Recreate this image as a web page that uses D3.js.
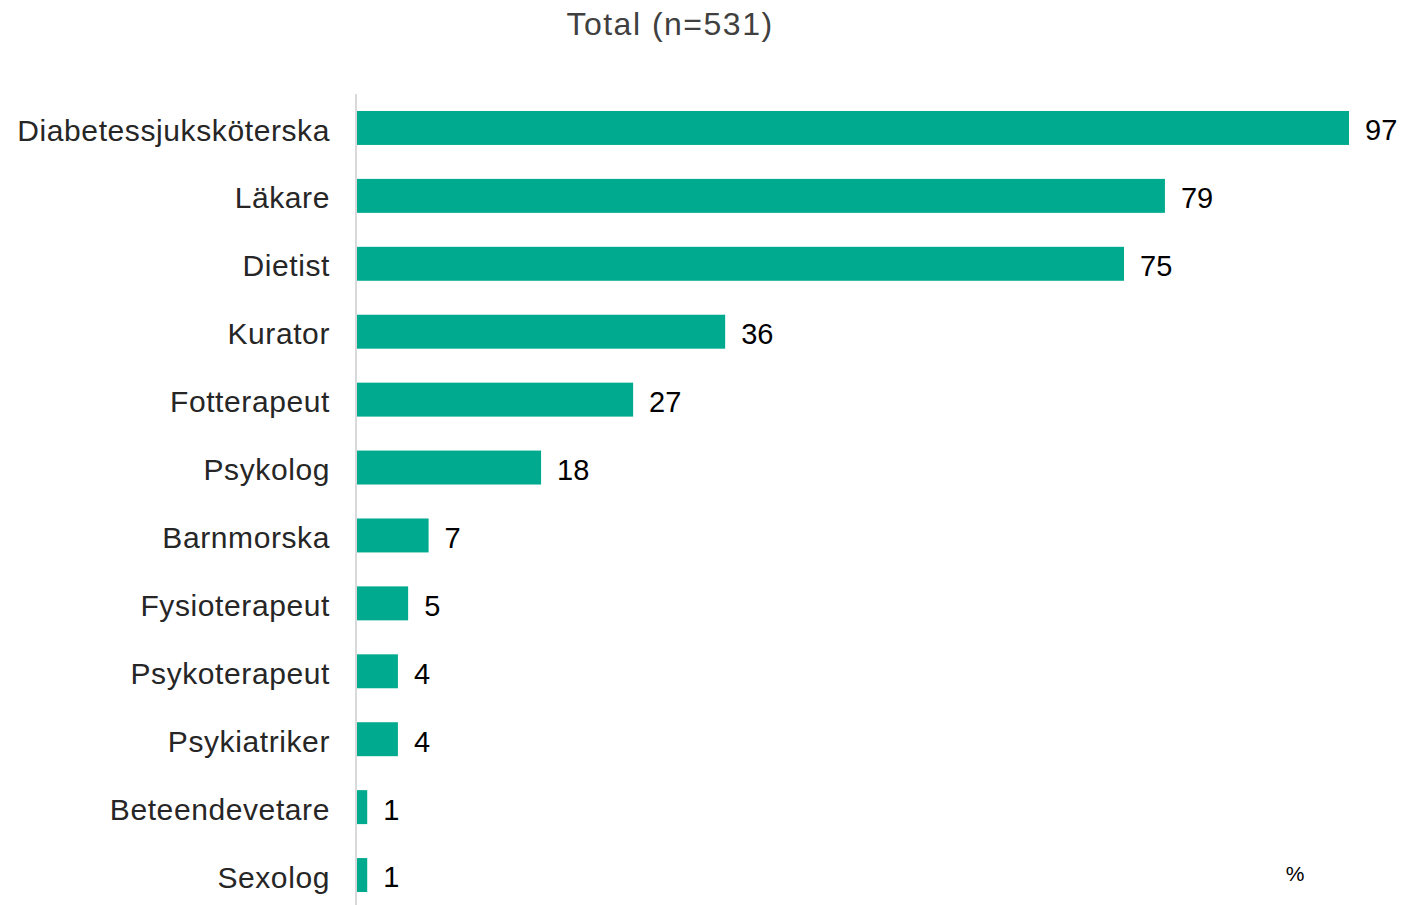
<!DOCTYPE html>
<html>
<head>
<meta charset="utf-8">
<script src="https://cdn.jsdelivr.net/npm/d3@7"></script>
<style>
  html, body { margin: 0; padding: 0; background: #ffffff; }
  svg { display: block; font-family: "Liberation Sans", Arial, sans-serif; }
</style>
</head>
<body>
<svg id="chart" width="1405" height="905"></svg>
<script>
// Professions and share of respondents (%)
const categories = [
  "Diabetessjuksköterska", "Läkare", "Dietist", "Kurator", "Fotterapeut",
  "Psykolog", "Barnmorska", "Fysioterapeut", "Psykoterapeut", "Psykiatriker",
  "Beteendevetare", "Sexolog"
];
const values = [97, 79, 75, 36, 27, 18, 7, 5, 4, 4, 1, 1];
const titleText = "Total (n=531)";
const unitText = "%";

const svg = d3.select("#chart");
const plotLeft = 357, plotRight = 1349;
const plotTop = 94, plotBottom = 909;

const x = d3.scaleLinear().domain([0, 97]).range([plotLeft, plotRight]);
const y = d3.scaleBand().domain(categories).range([plotTop, plotBottom]).paddingInner(0.5).paddingOuter(0.25);

// Title
svg.append("text")
  .attr("x", 670).attr("y", 35)
  .attr("text-anchor", "middle")
  .attr("font-size", 32)
  .attr("letter-spacing", 1.5)
  .attr("fill", "#404040")
  .text(titleText);

// Bars
svg.append("g").selectAll("rect")
  .data(categories)
  .join("rect")
  .attr("x", x(0))
  .attr("y", d => y(d))
  .attr("width", (d, i) => x(values[i]) - x(0))
  .attr("height", y.bandwidth())
  .attr("fill", "#00AA8E");

// Category axis
const yAxis = svg.append("g")
  .attr("transform", `translate(${plotLeft - 1},0)`)
  .call(d3.axisLeft(y).tickSize(0).tickPadding(26));
yAxis.select(".domain").attr("stroke", "#d9d9d9").attr("stroke-width", 2)
  .attr("d", `M0,${plotTop}V905`);
yAxis.selectAll("text")
  .attr("font-size", 30)
  .attr("letter-spacing", 0.6)
  .attr("dy", "0.42em")
  .attr("fill", "#262626")
  .attr("font-family", "'Liberation Sans', Arial, sans-serif");

// Value labels
svg.append("g").selectAll("text")
  .data(categories)
  .join("text")
  .attr("x", (d, i) => x(values[i]) + 16)
  .attr("y", d => y(d) + y.bandwidth() / 2 + 2)
  .attr("dy", "0.36em")
  .attr("font-size", 29)
  .attr("fill", "#000000")
  .text((d, i) => values[i]);

// Unit label
svg.append("text")
  .attr("x", 1295).attr("y", 881)
  .attr("text-anchor", "middle")
  .attr("font-size", 21)
  .attr("fill", "#000000")
  .text(unitText);
</script>
</body>
</html>
